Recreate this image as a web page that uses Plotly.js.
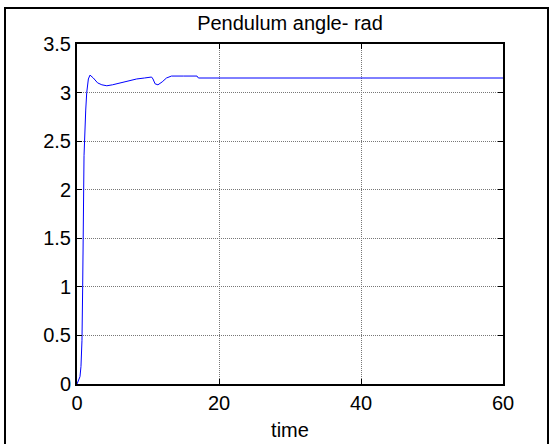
<!DOCTYPE html>
<html>
<head>
<meta charset="utf-8">
<script src="https://cdn.plot.ly/plotly-3.0.1.min.js"></script>
<style>
html,body{margin:0;padding:0;background:#fff;overflow:hidden;}
#frame{position:absolute;left:4px;top:7px;width:545px;height:440px;border:2px solid #000;box-sizing:border-box;pointer-events:none;z-index:10;}
#chart{position:absolute;left:0;top:0;width:549px;height:444px;}
</style>
</head>
<body>
<div id="chart"></div>
<div id="frame"></div>
<script>
const timeValues = [0, 0.2, 0.42, 0.56, 0.7, 0.8, 0.85, 0.99, 1.23, 1.37, 1.6, 1.83, 2.3, 2.9, 3.5, 4.2, 5.0, 6.0, 7.0, 8.4, 9.5, 10.5, 10.7, 11.0, 11.4, 12.0, 12.6, 13.3, 15.0, 16.9, 17.1, 30, 45, 60];
const angleValues = [0, 0.03, 0.075, 0.18, 0.45, 1.0, 1.3, 2.35, 2.82, 3.0, 3.14, 3.18, 3.15, 3.1, 3.08, 3.07, 3.08, 3.1, 3.12, 3.14, 3.15, 3.16, 3.14, 3.09, 3.08, 3.11, 3.15, 3.17, 3.17, 3.17, 3.15, 3.15, 3.15, 3.15];
const xTicks = [0, 20, 40, 60];
const yTicks = [0, 0.5, 1, 1.5, 2, 2.5, 3, 3.5];
const titleText = "Pendulum angle- rad";
const xLabel = "time";

const font = "Liberation Sans, Arial, sans-serif";
Plotly.newPlot("chart", [{
  x: timeValues, y: angleValues, type: "scatter", mode: "lines",
  line: {color: "#0000ff", width: 1}, hoverinfo: "skip"
}], {
  width: 549, height: 444,
  margin: {l: 77, r: 46, t: 44, b: 60, pad: 0},
  paper_bgcolor: "#fff", plot_bgcolor: "#fff",
  showlegend: false,
  title: {text: titleText, font: {family: font, size: 20, color: "#000"}, x: 0.5, xref: "paper", y: 0.948, yanchor: "middle"},
  xaxis: {
    range: [0, 60], tickvals: xTicks, ticktext: xTicks.map(String),
    showgrid: true, gridcolor: "#777", griddash: "1px,1px", gridwidth: 1,
    zeroline: false, showline: true, linecolor: "#000", linewidth: 2, mirror: "ticks",
    ticks: "inside", ticklen: 5, tickcolor: "#000", tickwidth: 1,
    tickfont: {family: font, size: 20, color: "#000"},
    title: {text: xLabel, font: {family: font, size: 20, color: "#000"}, standoff: 10}
  },
  yaxis: {
    range: [0, 3.5], tickvals: yTicks, ticktext: yTicks.map(String),
    showgrid: true, gridcolor: "#777", griddash: "1px,1px", gridwidth: 1,
    zeroline: false, showline: true, linecolor: "#000", linewidth: 2, mirror: "ticks",
    ticks: "inside", ticklen: 5, tickcolor: "#000", tickwidth: 1,
    tickfont: {family: font, size: 20, color: "#000"}
  }
}, {staticPlot: true, displayModeBar: false});
</script>
</body>
</html>
